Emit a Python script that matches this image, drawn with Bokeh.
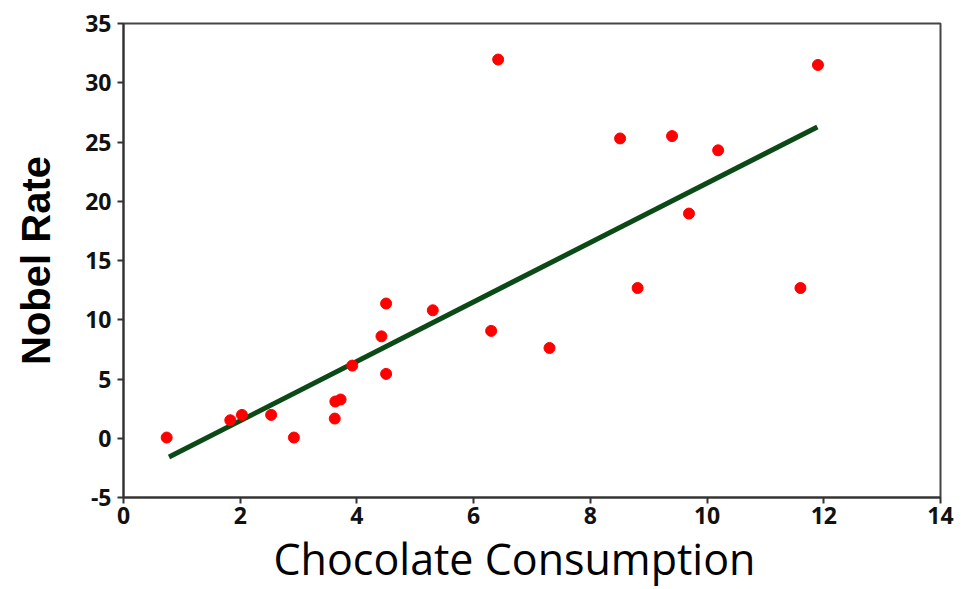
from bokeh.plotting import figure
from bokeh.models import Range1d, FixedTicker, ColumnDataSource, Title
from bokeh.embed import file_html
from bokeh.resources import INLINE

# Data
chocolate = [0.74, 1.83, 2.03, 2.53, 2.92, 3.62, 3.63, 3.72, 3.92, 4.42, 4.50, 4.50,
             5.30, 6.30, 6.42, 7.30, 8.51, 8.81, 9.40, 9.69, 10.19, 11.60, 11.90]
nobel = [0.06, 1.52, 1.97, 1.97, 0.06, 1.66, 3.10, 3.27, 6.13, 8.60, 11.37, 5.43,
         10.80, 9.06, 31.96, 7.62, 25.30, 12.68, 25.50, 18.96, 24.30, 12.68, 31.50]
trend_x = [0.78, 11.89]
trend_y = [-1.58, 26.27]
x_ticks = [0, 2, 4, 6, 8, 10, 12, 14]
y_ticks = [-5, 0, 5, 10, 15, 20, 25, 30, 35]

p = figure(width=969, height=589, output_backend="svg", toolbar_location=None,
           x_range=Range1d(0, 14), y_range=Range1d(-5, 35),
           min_border_left=123, min_border_right=29, min_border_top=23, min_border_bottom=92)

p.xgrid.visible = False
p.ygrid.visible = False
p.background_fill_color = "white"
p.border_fill_color = "white"
p.outline_line_color = "#444444"
p.outline_line_width = 2

p.line(trend_x, trend_y, line_color="#0b4a17", line_width=5)
src = ColumnDataSource(dict(x=chocolate, y=nobel))
p.scatter("x", "y", source=src, size=11, fill_color="#ff0000", line_color="#ff0000")

for ax in (p.xaxis[0], p.yaxis[0]):
    ax.axis_line_color = "#333333"
    ax.axis_line_width = 2
    ax.major_tick_line_color = "#333333"
    ax.major_tick_line_width = 2
    ax.major_tick_out = 6
    ax.major_tick_in = 0
    ax.minor_tick_line_color = None
    ax.major_label_text_font = "Open Sans"
    ax.major_label_text_font_style = "bold"
    ax.major_label_text_font_size = "23px"
    ax.major_label_text_color = "#111111"

p.xaxis.ticker = FixedTicker(ticks=x_ticks)
p.yaxis.ticker = FixedTicker(ticks=y_ticks)
p.yaxis.major_label_overrides = {t: str(t) for t in y_ticks}
p.xaxis.major_label_overrides = {t: str(t) for t in x_ticks}
p.xaxis.major_label_standoff = 3
p.xaxis.major_label_text_line_height = 0.6
p.yaxis.major_label_standoff = 6

xlabel = Title(text="Chocolate Consumption", align="left", offset=150,
               text_font="Open Sans", text_font_style="normal", text_font_size="43px",
               text_color="#000000", standoff=0)
p.add_layout(xlabel, "below")

p.yaxis.axis_label = "Nobel Rate"
p.yaxis.axis_label_text_font = "Liberation Sans"
p.yaxis.axis_label_text_font_style = "bold"
p.yaxis.axis_label_text_font_size = "40px"
p.yaxis.axis_label_text_color = "#000000"
p.yaxis.axis_label_standoff = 24

open("out.html", "w").write(file_html(p, INLINE))
